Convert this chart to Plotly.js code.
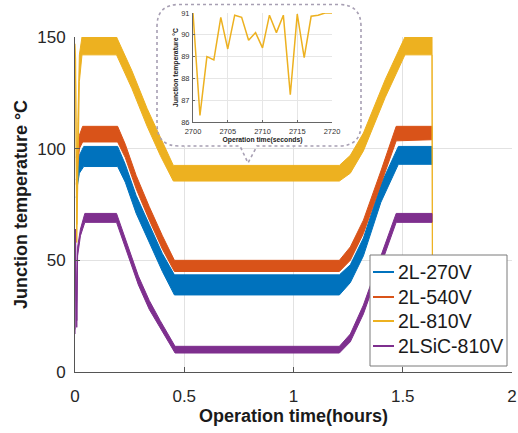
<!DOCTYPE html>
<html><head><meta charset="utf-8">
<script src="https://cdn.plot.ly/plotly-3.0.1.min.js"></script>
<style>html,body{margin:0;padding:0;background:#fff}#chart{width:518px;height:433px}</style>
</head><body><div id="chart"></div>
<script>
// ---------------- DATA ----------------
const seriesNames = ['2L-270V', '2L-540V', '2L-810V', '2LSiC-810V'];

// 2L-270V (blue) : noise band envelopes, time in hours
const time270  = [0.006, 0.012, 0.02, 0.04, 0.195, 0.23, 0.28, 0.34, 0.40, 0.455, 1.21, 1.26, 1.32, 1.40, 1.48, 1.634];
const upper270 = [86, 92, 97, 101, 101, 93, 79, 66, 53, 43.5, 43.5, 48, 60, 84, 101, 101];
const lower270 = [78, 84, 89, 92, 92, 85, 71, 58, 45, 34.5, 34.5, 40, 52, 76, 93, 93];

// 2L-540V (orange)
const time540  = [0.006, 0.012, 0.02, 0.035, 0.195, 0.23, 0.28, 0.34, 0.40, 0.455, 1.21, 1.26, 1.32, 1.40, 1.47, 1.634];
const upper540 = [96, 100, 106, 110, 110, 102, 88, 74, 61, 50, 50, 56, 68, 90, 110, 110];
const lower540 = [84, 92, 100, 103, 103, 96, 82, 68, 55, 45, 45, 50, 62, 84, 103.5, 104];

// 2L-810V (yellow)
const time810  = [0, 0.003, 0.008, 0.013, 0.02, 0.032, 0.19, 0.26, 0.33, 0.39, 0.45, 1.21, 1.26, 1.32, 1.42, 1.51, 1.634, 1.636];
const upper810 = [147, 140, 66, 112, 142, 150, 150, 135, 118, 105, 92.5, 92.5, 97, 107, 131, 150, 150, 30];
const lower810 = [141, 128, 58, 86, 130, 142, 142, 127, 110, 97, 85.5, 85.5, 89, 99, 123, 142, 142, 28];

// 2LSiC-810V (purple)
const timeSiC  = [0, 0.002, 0.008, 0.012, 0.025, 0.045, 0.19, 0.24, 0.29, 0.34, 0.39, 0.458, 1.21, 1.26, 1.32, 1.40, 1.47, 1.634];
const upperSiC = [19, 64, 23, 56, 64, 71, 71, 57, 43, 32, 23, 11.5, 11.5, 17, 30, 52, 71, 71];
const lowerSiC = [17, 61, 20, 52, 61, 67, 67, 53, 39, 28, 19.5, 8.5, 8.5, 13.5, 26, 48, 67, 67];

// Inset: 2L-810V zoom, seconds
const insetTime = [2700, 2701, 2702, 2703, 2704, 2705, 2706, 2707, 2708, 2709, 2710, 2711, 2712, 2713, 2714, 2715, 2716, 2717, 2718, 2719, 2720];
const insetTemp = [91.0, 86.3, 89.0, 88.85, 90.8, 89.35, 90.9, 90.8, 89.75, 90.1, 89.4, 90.9, 90.1, 90.9, 87.25, 90.95, 88.95, 90.85, 90.9, 91.0, 91.0];

const xTicks = [0, 0.5, 1, 1.5, 2];
const yTicks = [0, 50, 100, 150];
const insetXTicks = [2700, 2705, 2710, 2715, 2720];
const insetYTicks = [86, 87, 88, 89, 90, 91];

// ---------------- STYLE ----------------
const colors = ['#0072BD', '#D95319', '#EDB120', '#7E2F8E'];
const W = 518, H = 433;
const M = {l: 75, r: 6, t: 4, b: 61};
const plotW = W - M.l - M.r, plotH = H - M.t - M.b;
const px = x => (x - M.l) / plotW;          // pixel x -> paper
const py = y => (H - M.b - y) / plotH;      // pixel y -> paper

function band(t, up, lo, color) {
  return {
    x: t.concat(t.slice().reverse()),
    y: up.concat(lo.slice().reverse()),
    type: 'scatter', mode: 'lines', fill: 'toself',
    fillcolor: color, line: {color: color, width: 1},
    hoverinfo: 'skip', showlegend: false, xaxis: 'x', yaxis: 'y'
  };
}

const traces = [
  band(time270, upper270, lower270, colors[0]),
  band(time540, upper540, lower540, colors[1]),
  band(time810, upper810, lower810, colors[2]),
  band(timeSiC, upperSiC, lowerSiC, colors[3]),
  {x: insetTime, y: insetTemp, type: 'scatter', mode: 'lines',
   line: {color: colors[2], width: 1.5}, xaxis: 'x2', yaxis: 'y2', showlegend: false}
];

const font = 'Liberation Sans, Arial, Helvetica, sans-serif';
const mainTop = py(37);

// inset frame path (rounded, dotted) with pointer
const L = px(157), R = px(361), T = py(4.5), B = py(146);
const rx = 22 / plotW, ry = 22 / plotH;
const p1 = px(240), p2 = px(257), tipX = px(248), tipY = py(163);
const framePath = `M ${L+rx},${T} L ${R-rx},${T} Q ${R},${T} ${R},${T-ry} L ${R},${B+ry} Q ${R},${B} ${R-rx},${B} ` +
  `L ${p2},${B} L ${tipX},${tipY} L ${p1},${B} L ${L+rx},${B} Q ${L},${B} ${L},${B+ry} L ${L},${T-ry} Q ${L},${T} ${L+rx},${T} Z`;

const shapes = [
  // white backing for inset region (hides main grid)
  {type: 'rect', xref: 'x', yref: 'y', x0: px(157) * 2, x1: px(361) * 2, y0: (H - M.b - 146) / (335 / 150), y1: 170,
   fillcolor: '#ffffff', line: {width: 0}, layer: 'between'},
  {type: 'path', xref: 'paper', yref: 'paper', path: framePath,
   line: {color: '#a79fb3', width: 1.6, dash: 'dot'}, fillcolor: 'rgba(0,0,0,0)', layer: 'above'},
  // legend box
  {type: 'rect', xref: 'paper', yref: 'paper', x0: px(370), x1: px(507), y0: py(366), y1: py(255),
   fillcolor: '#ffffff', line: {color: '#7a7a7a', width: 1}, layer: 'above'}
];
const rowsY = [272, 297, 321, 346];
const annotations = [];
seriesNames.forEach((name, i) => {
  shapes.push({type: 'line', xref: 'paper', yref: 'paper', x0: px(373), x1: px(394), y0: py(rowsY[i]), y1: py(rowsY[i]),
               line: {color: colors[i], width: 2}, layer: 'above'});
  annotations.push({xref: 'paper', yref: 'paper', x: px(396), y: py(rowsY[i]), xanchor: 'left', yanchor: 'middle',
                    text: name, showarrow: false, font: {family: font, size: 19.5, color: '#1a1a1a'}});
});

const layout = {
  width: W, height: H,
  margin: M,
  paper_bgcolor: '#ffffff', plot_bgcolor: 'rgba(0,0,0,0)',
  showlegend: false,
  font: {family: font, color: '#262626'},
  xaxis: {
    domain: [0, 1], range: [0, 2], tickvals: xTicks, ticktext: xTicks.map(String),
    ticks: 'inside', ticklen: 5, tickcolor: '#555', showline: true, linecolor: '#555', linewidth: 1,
    showgrid: true, gridcolor: '#e2e2e2', zeroline: false, anchor: 'y',
    tickfont: {size: 17, color: '#262626'}, ticklabelstandoff: 9,
    title: {text: '<b>Operation time(hours)</b>', font: {size: 18, color: '#1a1a1a'}, standoff: 3}
  },
  yaxis: {
    domain: [0, mainTop], range: [0, 150], tickvals: yTicks,
    ticks: 'inside', ticklen: 5, tickcolor: '#555', showline: true, linecolor: '#555', linewidth: 1,
    showgrid: true, gridcolor: '#e2e2e2', zeroline: false, anchor: 'x',
    tickfont: {size: 17, color: '#262626'}, ticklabelstandoff: 5,
    title: {text: '<b>Junction temperature °C</b>', font: {size: 18, color: '#1a1a1a'}, standoff: 4}
  },
  xaxis2: {
    domain: [px(193), px(332)], range: [2700, 2720], tickvals: insetXTicks, anchor: 'y2',
    ticks: 'inside', ticklen: 2, tickcolor: '#666', showline: true, linecolor: '#666', linewidth: 1,
    showgrid: true, gridcolor: '#e6e6e6', zeroline: false,
    tickfont: {size: 7.5, color: '#333'}, ticklabelstandoff: 2,
    title: {text: '<b>Operation time(seconds)</b>', font: {size: 6.8, color: '#222'}, standoff: 1}
  },
  yaxis2: {
    domain: [py(122), py(13)], range: [86, 91], tickvals: insetYTicks, anchor: 'x2',
    ticks: 'inside', ticklen: 2, tickcolor: '#666', showline: true, linecolor: '#666', linewidth: 1,
    showgrid: true, gridcolor: '#e6e6e6', zeroline: false,
    tickfont: {size: 7.5, color: '#333'}, ticklabelstandoff: 1,
    title: {text: '<b>Junction temperature °C</b>', font: {size: 6.8, color: '#222'}, standoff: 1}
  },
  shapes: shapes,
  annotations: annotations
};

Plotly.newPlot('chart', traces, layout, {staticPlot: true, displayModeBar: false});
</script>
</body></html>
